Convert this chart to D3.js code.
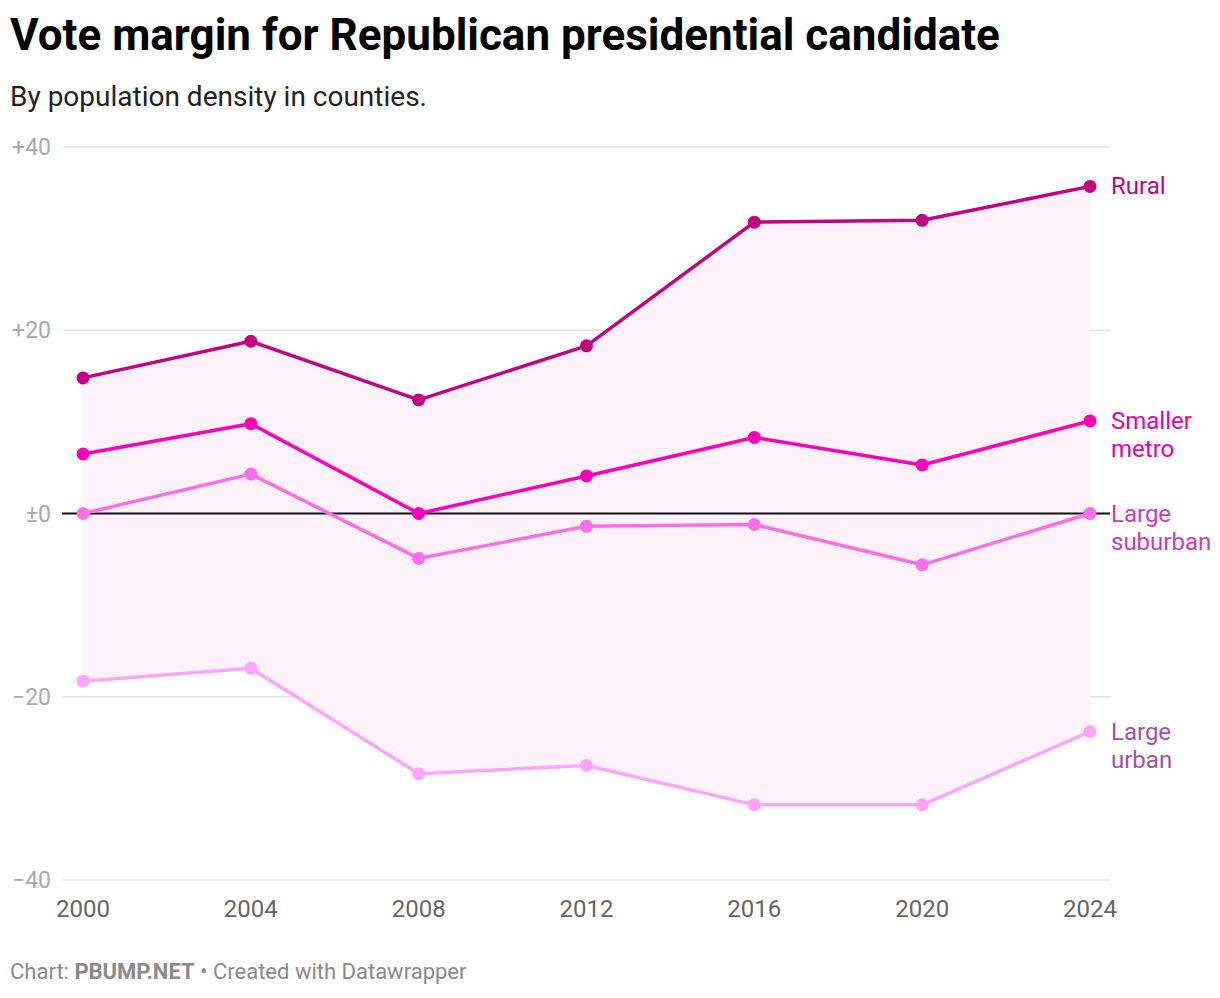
<!DOCTYPE html>
<html>
<head>
<meta charset="utf-8">
<script src="https://cdn.jsdelivr.net/npm/d3@7"></script>
<style>
  body { margin: 0; background: #fff; font-family: Roboto, "Noto Sans", sans-serif; }
</style>
</head>
<body>
<svg id="chart" width="1220" height="998"></svg>
<script>
// data
const years = [2000, 2004, 2008, 2012, 2016, 2020, 2024];
const rural = [14.8, 18.8, 12.4, 18.3, 31.8, 32.0, 35.7];
const smallerMetro = [6.5, 9.8, 0.0, 4.1, 8.3, 5.3, 10.1];
const largeSuburban = [0.0, 4.3, -4.9, -1.4, -1.2, -5.6, 0.0];
const largeUrban = [-18.3, -16.9, -28.4, -27.5, -31.8, -31.8, -23.8];
const yTicks = [-40, -20, 0, 20, 40];

const series = [
  { name: ["Rural"], values: rural, color: "#c0037f", label: "#c0037f" },
  { name: ["Smaller", "metro"], values: smallerMetro, color: "#fc00b8", label: "#e600a6" },
  { name: ["Large", "suburban"], values: largeSuburban, color: "#ff6ee9", label: "#c83cbd" },
  { name: ["Large", "urban"], values: largeUrban, color: "#ffa6fc", label: "#a64fa8" }
];

const svg = d3.select("#chart");
const margin = { top: 147, right: 130, bottom: 118, left: 83 };
const width = 1220, height = 998;

const x = d3.scaleLinear()
  .domain([2000, 2024])
  .range([margin.left, width - margin.right]);

const y = d3.scaleLinear()
  .domain([-40, 40])
  .range([height - margin.bottom, margin.top]);

// title + subtitle
svg.append("text")
  .attr("x", 10).attr("y", 50)
  .style("font-size", "44px").style("font-weight", "700")
  .attr("fill", "#000")
  .text("Vote margin for Republican presidential candidate");

svg.append("text")
  .attr("x", 10).attr("y", 106)
  .style("font-size", "28px")
  .attr("fill", "#222")
  .text("By population density in counties.");

// grid
const gridX0 = 63, gridX1 = 1110;
svg.append("g")
  .selectAll("line")
  .data(yTicks.filter(d => d !== 0))
  .enter()
  .append("line")
  .attr("x1", gridX0).attr("x2", gridX1)
  .attr("y1", d => y(d)).attr("y2", d => y(d))
  .attr("stroke", "#e3e3e3")
  .attr("stroke-width", 1.5);

// y labels
svg.append("g")
  .selectAll("text")
  .data(yTicks)
  .enter()
  .append("text")
  .attr("x", 51)
  .attr("y", d => y(d) + 8)
  .attr("text-anchor", "end")
  .style("font-size", "23px")
  .attr("fill", "#aaaaaa")
  .text(d => d > 0 ? "+" + d : d === 0 ? "\u00b10" : "\u2212" + Math.abs(d));

// area between rural and large urban
const area = d3.area()
  .x((d, i) => x(years[i]))
  .y0((d, i) => y(largeUrban[i]))
  .y1((d, i) => y(rural[i]));

svg.append("path")
  .datum(years)
  .attr("d", area)
  .attr("fill", "#fff2fa");

// zero line
svg.append("line")
  .attr("x1", 62).attr("x2", gridX1)
  .attr("y1", y(0)).attr("y2", y(0))
  .attr("stroke", "#111")
  .attr("stroke-width", 1.8);

// x labels
svg.append("g")
  .selectAll("text")
  .data(years)
  .enter()
  .append("text")
  .attr("x", d => x(d))
  .attr("y", 917)
  .attr("text-anchor", "middle")
  .style("font-size", "24px")
  .attr("fill", "#666")
  .text(d => d);

// lines + dots
const line = d3.line()
  .x((d, i) => x(years[i]))
  .y(d => y(d));

series.slice().reverse().forEach(s => {
  const g = svg.append("g");
  g.append("path")
    .datum(s.values)
    .attr("d", line)
    .attr("fill", "none")
    .attr("stroke", s.color)
    .attr("stroke-width", 3.5)
    .attr("stroke-linejoin", "round");
  g.selectAll("circle")
    .data(s.values)
    .enter()
    .append("circle")
    .attr("cx", (d, i) => x(years[i]))
    .attr("cy", d => y(d))
    .attr("r", 6.5)
    .attr("fill", s.color);

  const last = s.values[s.values.length - 1];
  const t = g.append("text")
    .attr("x", x(2024) + 21)
    .attr("y", y(last) + 8)
    .style("font-size", "24px")
    .attr("fill", s.label);
  s.name.forEach((n, i) => {
    t.append("tspan")
      .attr("x", x(2024) + 21)
      .attr("dy", i === 0 ? 0 : 28)
      .text(n);
  });
});

// footer
const foot = svg.append("text")
  .attr("x", 10).attr("y", 979)
  .style("font-size", "22px")
  .attr("fill", "#8a8a8a");
foot.append("tspan").text("Chart: ");
foot.append("tspan").style("font-weight", "700").text("PBUMP.NET");
foot.append("tspan").text(" \u2022 Created with Datawrapper");
</script>
</body>
</html>
